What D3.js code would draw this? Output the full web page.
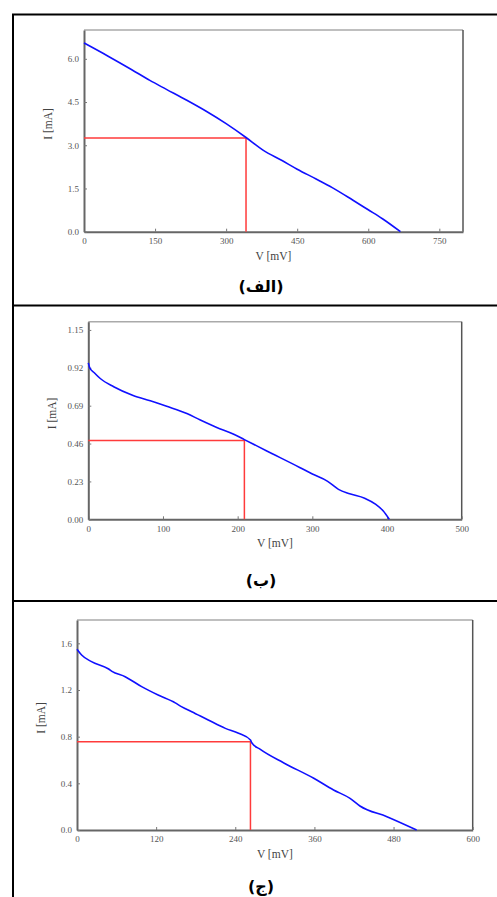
<!DOCTYPE html>
<html>
<head>
<meta charset="utf-8">
<script src="https://cdn.jsdelivr.net/npm/d3@7"></script>
<style>
  body { margin: 0; background: #fff; }
  svg { display: block; }
</style>
</head>
<body>
<script>
  // panel (الف)
  var voltA = [0, 50, 100, 139, 174, 216, 258, 300, 342, 377, 419, 450, 490, 524, 567, 600, 630, 668];
  var currA = [6.55, 6.10, 5.63, 5.25, 4.94, 4.57, 4.18, 3.75, 3.27, 2.84, 2.46, 2.17, 1.83, 1.53, 1.10, 0.76, 0.45, 0.0];
  var mppA = [342, 3.25];
  var xTicksA = [0, 150, 300, 450, 600, 750];
  var yTicksA = [0, 1.5, 3.0, 4.5, 6.0];

  // panel (ب)
  var voltB = [0, 2, 8, 16, 34, 60, 83, 105, 132, 150, 172, 194, 209, 239, 283, 300, 320, 335, 350, 370, 385, 395, 403];
  var currB = [0.95, 0.92, 0.89, 0.855, 0.805, 0.752, 0.72, 0.686, 0.642, 0.603, 0.558, 0.518, 0.484, 0.415, 0.315, 0.275, 0.232, 0.182, 0.155, 0.128, 0.09, 0.05, 0.0];
  var mppB = [209, 0.478];
  var xTicksB = [0, 100, 200, 300, 400, 500];
  var yTicksB = [0, 0.23, 0.46, 0.69, 0.92, 1.15];

  // panel (ج)
  var voltC = [0, 7, 22, 48, 53, 73, 98, 123, 149, 159, 174, 199, 225, 245, 263, 265, 278, 313, 359, 389, 414, 429, 470, 515];
  var currC = [1.55, 1.50, 1.443, 1.38, 1.36, 1.314, 1.229, 1.157, 1.09, 1.055, 1.014, 0.943, 0.871, 0.829, 0.771, 0.748, 0.691, 0.577, 0.443, 0.343, 0.271, 0.206, 0.114, 0.0];
  var mppC = [263, 0.757];
  var xTicksC = [0, 120, 240, 360, 480, 600];
  var yTicksC = [0, 0.4, 0.8, 1.2, 1.6];

  var width = 497, height = 897;
  var svg = d3.select('body').append('svg')
    .attr('width', width).attr('height', height);

  // table borders
  svg.append('line').attr('x1', 13).attr('x2', 13).attr('y1', 14).attr('y2', height).attr('stroke', '#000').attr('stroke-width', 2);
  [14.5, 305.5, 601].forEach(function(y) {
    svg.append('line').attr('x1', 12).attr('x2', width).attr('y1', y).attr('y2', y).attr('stroke', '#000').attr('stroke-width', 2);
  });

  var panels = [
    {v: voltA, i: currA, mpp: mppA, xt: xTicksA, yt: yTicksA, xMax: 800, yMax: 7, fmt: '.1f',
     left: 84, top: 30, right: 463, bottom: 231.7, cap: '(الف)', capY: 286},
    {v: voltB, i: currB, mpp: mppB, xt: xTicksB, yt: yTicksB, xMax: 500, yMax: 1.2, fmt: '.2f',
     left: 88.3, top: 321.7, right: 461.7, bottom: 519.3, cap: '(ب)', capY: 580},
    {v: voltC, i: currC, mpp: mppC, xt: xTicksC, yt: yTicksC, xMax: 600, yMax: 1.8, fmt: '.1f',
     left: 77, top: 620, right: 472.7, bottom: 830, cap: '(ج)', capY: 886}
  ];

  panels.forEach(function(p) {
    var x = d3.scaleLinear().domain([0, p.xMax]).range([p.left, p.right]);
    var y = d3.scaleLinear().domain([0, p.yMax]).range([p.bottom, p.top]);
    var g = svg.append('g');

    // frame: top & right
    g.append('line').attr('x1', p.left).attr('x2', p.right).attr('y1', p.top).attr('y2', p.top)
      .attr('stroke', '#aaa').attr('stroke-width', 1.5);
    g.append('line').attr('x1', p.right).attr('x2', p.right).attr('y1', p.top).attr('y2', p.bottom)
      .attr('stroke', '#555').attr('stroke-width', 1.5);

    var xAxis = g.append('g').attr('transform', 'translate(0,' + p.bottom + ')')
      .call(d3.axisBottom(x).tickValues(p.xt).tickSizeInner(-3).tickSizeOuter(0).tickPadding(6).tickFormat(d3.format('d')));
    var yAxis = g.append('g').attr('transform', 'translate(' + p.left + ',0)')
      .call(d3.axisLeft(y).tickValues(p.yt).tickSizeInner(-3).tickSizeOuter(0).tickPadding(5).tickFormat(d3.format(p.fmt)));
    [xAxis, yAxis].forEach(function(a) {
      a.select('.domain').attr('stroke', '#666').attr('stroke-width', 2);
      a.selectAll('.tick line').attr('stroke', '#777');
      a.selectAll('.tick text').attr('fill', '#555').style('font-family', 'Liberation Serif, serif').style('font-size', '9px');
    });

    // axis titles
    g.append('text').attr('x', (p.left + p.right) / 2).attr('y', p.bottom + 28)
      .attr('text-anchor', 'middle').attr('fill', '#444')
      .style('font-family', 'Liberation Serif, serif').style('font-size', '11.5px').text('V [mV]');
    g.append('text')
      .attr('transform', 'translate(' + (p.left - 32) + ',' + ((p.top + p.bottom) / 2 - 7) + ') rotate(-90)')
      .attr('text-anchor', 'middle').attr('fill', '#444')
      .style('font-family', 'Liberation Serif, serif').style('font-size', '11.5px').text('I [mA]');

    // max power point guides
    g.append('path')
      .attr('d', d3.line()([[x(0), y(p.mpp[1])], [x(p.mpp[0]), y(p.mpp[1])], [x(p.mpp[0]), y(0)]]))
      .attr('fill', 'none').attr('stroke', '#ff3b3b').attr('stroke-width', 1.5);

    // I-V curve
    var pts = p.v.map(function(d, k) { return [d, p.i[k]]; });
    g.append('path')
      .attr('d', d3.line().curve(d3.curveMonotoneX).x(function(d) { return x(d[0]); }).y(function(d) { return y(d[1]); })(pts))
      .attr('fill', 'none').attr('stroke', '#1010ff').attr('stroke-width', 1.6);

    // caption
    g.append('text').attr('x', 261).attr('y', p.capY).attr('dy', '0.35em')
      .attr('text-anchor', 'middle').attr('direction', 'rtl')
      .style('font-family', 'DejaVu Sans, sans-serif').style('font-weight', 'bold').style('font-size', '16px')
      .text(p.cap);
  });
</script>
</body>
</html>
